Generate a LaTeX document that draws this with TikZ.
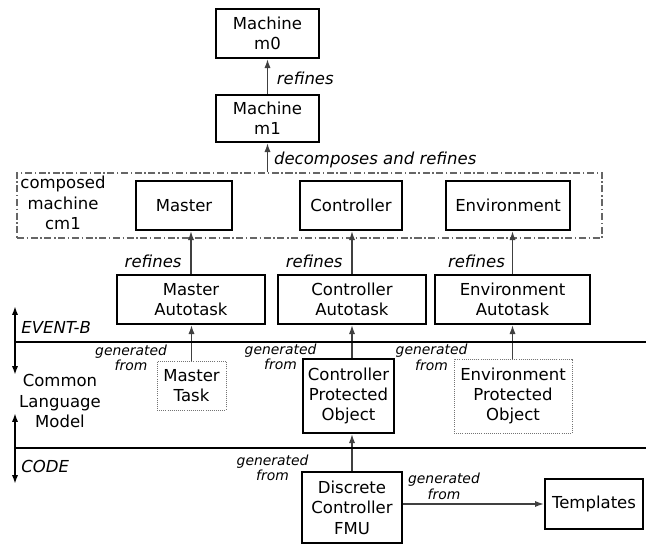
\documentclass[tikz,border=0pt]{standalone}
\usepackage{fontspec}
\setmainfont{DejaVu Sans}
\usepackage{tikz}
\usetikzlibrary{arrows.meta}
\tikzset{box/.style = {draw, line width = 1.4pt, align = center, inner sep = 0, font = \fontsize{9.4}{11.6}\selectfont}}
\tikzset{dotbox/.style = {box, draw = black!55, line width = 0.5pt, dash pattern = on 0.5pt off 0.7pt}}
\tikzset{cmbox/.style = {draw = black!60, line width = 0.7pt, dash pattern = on 4pt off 1.5pt on 0.8pt off 1.5pt}}
\tikzset{link/.style = {->, draw = black!75, line width = 0.7pt}}
\tikzset{rule/.style = {line width = 1pt}}
\tikzset{lbl/.style = {font = \fontsize{9.4}{11}\selectfont\itshape, inner sep = 0}}
\tikzset{gen/.style = {align = center, font = \fontsize{7.9}{9}\selectfont\itshape, inner sep = 0}}
\tikzset{plain/.style = {align = center, inner sep = 0, font = \fontsize{9.4}{11.6}\selectfont}}

\begin{document}
\begin{tikzpicture}[x = 0.02cm, y = -0.02cm, >={Latex[length=5pt, width=3.5pt]}]
  \useasboundingbox (0, 0) rectangle (646, 546);
  % event-b machines
  \node [box, minimum width = 2.06cm, minimum height = 0.98cm] (m0) at (267.5, 33.5) {Machine\\m0};
  \node [box, minimum width = 2.06cm, minimum height = 0.94cm] (m1) at (267.5, 118.5) {Machine\\m1};
  \node [cmbox, minimum width = 11.7cm, minimum height = 1.3cm] (cm1) at (309.5, 205.5) {};
  \node [plain, anchor = north] (cm1name) at (63, 176) {composed\\machine\\cm1};
  \node [box, minimum width = 1.92cm, minimum height = 0.98cm] (master) at (184, 205.5) {Master};
  \node [box, minimum width = 2.04cm, minimum height = 0.98cm] (controller) at (351, 205.5) {Controller};
  \node [box, minimum width = 2.48cm, minimum height = 0.98cm] (environment) at (508, 205.5) {Environment};
  \node [box, minimum width = 2.96cm, minimum height = 0.98cm] (masterAT) at (191, 299.5) {Master\\Autotask};
  \node [box, minimum width = 2.96cm, minimum height = 0.98cm] (controllerAT) at (352, 299.5) {Controller\\Autotask};
  \node [box, minimum width = 3.10cm, minimum height = 0.98cm] (environmentAT) at (512.5, 299.5) {Environment\\Autotask};
  % common language model
  \node [dotbox, minimum width = 1.38cm, minimum height = 0.98cm] (masterTask) at (191.5, 385.5) {Master\\Task};
  \node [box, minimum width = 1.82cm, minimum height = 1.48cm] (controllerPO) at (348.5, 396) {Controller\\Protected\\Object};
  \node [dotbox, minimum width = 2.36cm, minimum height = 1.48cm] (environmentPO) at (513, 396) {Environment\\Protected\\Object};
  % code
  \node [box, minimum width = 2.0cm, minimum height = 1.42cm] (fmu) at (352, 507.5) {Discrete\\Controller\\FMU};
  \node [box, minimum width = 1.96cm, minimum height = 1.0cm] (templates) at (594, 504) {Templates};

  \draw [link] (m1) -- (m0) node [lbl, pos = 0.45, anchor = west, xshift = 5pt] {refines};
  \draw [link] (cm1.north -| m1) -- (m1) node [lbl, pos = 0.42, anchor = west, xshift = 3.4pt] {decomposes and refines};
  \draw [link] (masterAT.north) -- (masterAT.north |- master.south) node [lbl, pos = 0.29, anchor = east, xshift = -5pt] {refines};
  \draw [link] (controllerAT.north) -- (controllerAT.north |- controller.south) node [lbl, pos = 0.29, anchor = east, xshift = -5pt] {refines};
  \draw [link] (environmentAT.north) -- (environmentAT.north |- environment.south) node [lbl, pos = 0.29, anchor = east, xshift = -4pt] {refines};

  \draw [link] (masterTask.north) -- (masterTask.north |- masterAT.south) node [gen, pos = 0.08, anchor = east, xshift = -0.48cm] {generated\\from};
  \draw [link] (controllerPO.north -| controllerAT) -- (controllerAT) node [gen, pos = 0.03, anchor = east, xshift = -0.7cm] {generated\\from};
  \draw [link] (environmentPO.north -| environmentAT) -- (environmentAT) node [gen, pos = 0.03, anchor = east, xshift = -0.89cm] {generated\\from};
  \draw [link] (fmu) -- (fmu.north |- controllerPO.south) node [gen, pos = 0.08, anchor = east, xshift = -0.86cm] {generated\\from};
  \draw [link] (fmu.east |- templates) -- (templates) node [gen, pos = 0.29, anchor = south, yshift = 2pt] {generated\\from};

  % layers
  \coordinate (evbL) at (15, 342);
  \coordinate (evbR) at (646, 342);
  \coordinate (codL) at (15, 448);
  \coordinate (codR) at (646, 448);
  \coordinate (evbTop) at (15, 306);
  \coordinate (evbBot) at (15, 375);
  \coordinate (codTop) at (15, 413);
  \coordinate (codBot) at (15, 484);
  \draw [rule] (evbL) -- (evbR);
  \draw [rule] (codL) -- (codR);
  \draw [rule, <->] (evbTop) -- (evbBot);
  \draw [rule, <->] (codTop) -- (codBot);
  \node [lbl, anchor = west] (eventb) at (21, 327) {EVENT-B};
  \node [plain] (clm) at (60, 401) {Common\\Language\\Model};
  \node [lbl, anchor = west] (code) at (21, 466) {CODE};
\end{tikzpicture}
\end{document}
